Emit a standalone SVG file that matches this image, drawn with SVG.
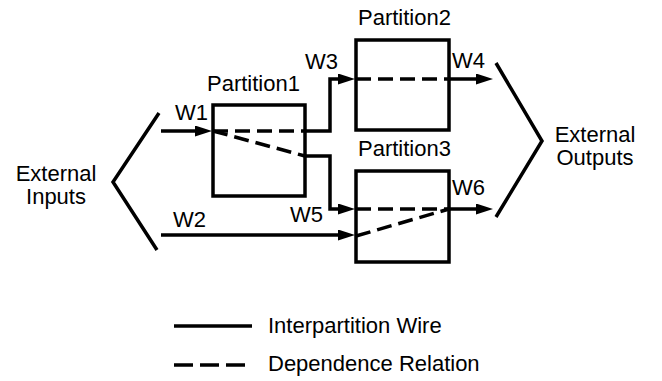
<svg xmlns="http://www.w3.org/2000/svg" width="662" height="381" viewBox="0 0 662 381">
<style>
text{font-family:"Liberation Sans",Arial,Helvetica,sans-serif;font-size:22px;fill:#000}
.box{fill:none;stroke:#000;stroke-width:3.5}
.wire{fill:none;stroke:#000;stroke-width:3.5}
.dep{fill:none;stroke:#000;stroke-width:3.5;stroke-dasharray:15 7}
.mid{text-anchor:middle}
</style>
<defs>
<marker id="arr" markerWidth="17" markerHeight="11" refX="9" refY="5.5" orient="auto" markerUnits="userSpaceOnUse">
<path d="M0,0 L17,5.5 L0,11 z" fill="#000"/>
</marker>
</defs>
<rect width="662" height="381" fill="#fff"/>
<g id="external-inputs">
<polyline class="wire" points="159,113 113,182 157,250"/>
<text class="mid" x="56" y="181">External</text>
<text class="mid" x="56" y="204">Inputs</text>
</g>
<g id="external-outputs">
<polyline class="wire" points="496,63 542,141 496,217"/>
<text class="mid" x="595" y="142">External</text>
<text class="mid" x="595" y="165">Outputs</text>
</g>
<g id="partition1">
<rect class="box" x="213" y="105" width="92" height="91"/>
<text x="207" y="91">Partition1</text>
</g>
<g id="partition2">
<rect class="box" x="356" y="40" width="93" height="90"/>
<text x="358" y="25">Partition2</text>
</g>
<g id="partition3">
<rect class="box" x="356" y="171" width="93" height="91"/>
<text x="358" y="156">Partition3</text>
</g>
<g id="connectors">
<path class="wire" d="M161,131 H204" marker-end="url(#arr)"/>
<path class="wire" d="M305,131 H330 V79 H347" marker-end="url(#arr)"/>
<path class="wire" d="M305,156 H330 V209 H347" marker-end="url(#arr)"/>
<path class="wire" d="M161,235 H347" marker-end="url(#arr)"/>
<path class="wire" d="M449,79 H485" marker-end="url(#arr)"/>
<path class="wire" d="M449,209 H485" marker-end="url(#arr)"/>
<path class="dep" d="M213,131 H305"/>
<path class="dep" d="M213,131 L305,156"/>
<path class="dep" d="M356,79 H449"/>
<path class="dep" d="M356,209 H449"/>
<path class="dep" d="M356,236 L449,209"/>
<text x="175" y="120">W1</text>
<text x="173" y="227">W2</text>
<text x="305" y="69">W3</text>
<text x="452" y="68">W4</text>
<text x="290" y="222">W5</text>
<text x="452" y="195">W6</text>
</g>
<g id="legend">
<path class="wire" d="M174,326 H252" stroke-width="4"/>
<path class="wire" d="M174,365 H246" stroke-width="4" stroke-dasharray="19 7"/>
<text x="268" y="333">Interpartition Wire</text>
<text x="268" y="371">Dependence Relation</text>
</g>
</svg>
